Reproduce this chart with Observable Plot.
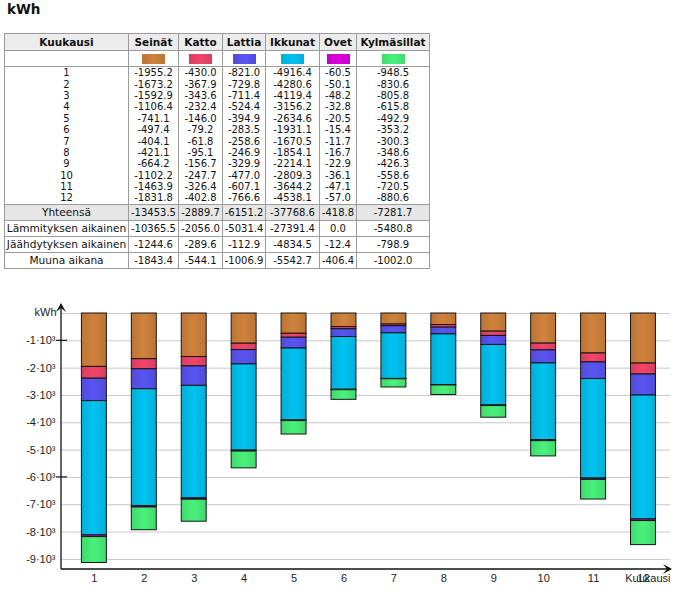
<!DOCTYPE html>
<html><head><meta charset="utf-8">
<script src="https://cdn.jsdelivr.net/npm/d3@7"></script>
<script src="https://cdn.jsdelivr.net/npm/@observablehq/plot@0.6"></script>
<style>
body{margin:0;background:#fff;width:681px;height:594px;position:relative;overflow:hidden;font-family:"DejaVu Sans",sans-serif;}
#title{position:absolute;left:7px;top:1px;font-weight:bold;font-size:13.5px;color:#111;}
table{position:absolute;left:4px;top:33px;border-collapse:collapse;table-layout:fixed;width:425px;font-size:10px;color:#111;}
td,th{border:1px solid #9a9a9a;padding:0;text-align:center;white-space:nowrap;overflow:hidden;}
th{background:#ececec;font-weight:bold;font-size:10.5px;height:16px;}
tr.sw td{height:15px;}
tr.d td{border-top:none;border-bottom:none;height:11.4px;line-height:11px;}
tr.s td{height:15px;}
tr.s td:first-child{font-size:10.6px;}
tr.tot td{background:#e6e6e6;}
.swatch{display:inline-block;width:23px;height:10px;vertical-align:middle;}
#chart{position:absolute;left:0;top:285px;}
</style></head><body>
<div id="title">kWh</div>
<table id="tbl"></table>
<div id="chart"></div>
<script>
const months = [1,2,3,4,5,6,7,8,9,10,11,12];
const seriesNames = ["Seinät","Katto","Lattia","Ikkunat","Ovet","Kylmäsillat"];
const seriesColors = ["#D0823C","#F2456A","#5A55F2","#00C3F0","#DD00E0","#48F27A"];
const seinat = [-1955.2,-1673.2,-1592.9,-1106.4,-741.1,-497.4,-404.1,-421.1,-664.2,-1102.2,-1463.9,-1831.8];
const katto = [-430.0,-367.9,-343.6,-232.4,-146.0,-79.2,-61.8,-95.1,-156.7,-247.7,-326.4,-402.8];
const lattia = [-821.0,-729.8,-711.4,-524.4,-394.9,-283.5,-258.6,-246.9,-329.9,-477.0,-607.1,-766.6];
const ikkunat = [-4916.4,-4280.6,-4119.4,-3156.2,-2634.6,-1931.1,-1670.5,-1854.1,-2214.1,-2809.3,-3644.2,-4538.1];
const ovet = [-60.5,-50.1,-48.2,-32.8,-20.5,-15.4,-11.7,-16.7,-22.9,-36.1,-47.1,-57.0];
const kylmasillat = [-948.5,-830.6,-805.8,-615.8,-492.9,-353.2,-300.3,-348.6,-426.3,-558.6,-720.5,-880.6];
const summaryLabels = ["Yhteensä","Lämmityksen aikainen","Jäähdytyksen aikainen","Muuna aikana"];
const yhteensa = [-13453.5,-2889.7,-6151.2,-37768.6,-418.8,-7281.7];
const lammitys = [-10365.5,-2056.0,-5031.4,-27391.4,0.0,-5480.8];
const jaahdytys = [-1244.6,-289.6,-112.9,-4834.5,-12.4,-798.9];
const muuna = [-1843.4,-544.1,-1006.9,-5542.7,-406.4,-1002.0];
const yTicks = [0,-1000,-2000,-3000,-4000,-5000,-6000,-7000,-8000,-9000];
const yMin = -9370;
const xLabel = "Kuukausi";
const yLabel = "kWh";

const seriesValues = [seinat, katto, lattia, ikkunat, ovet, kylmasillat];
const fmt = v => v.toFixed(1);

// ---- table ----
const colW = [124,50,44,43,54,37,73];
let html = "<colgroup>" + colW.map(w => `<col style="width:${w}px">`).join("") + "</colgroup>";
html += "<tr><th>Kuukausi</th>" + seriesNames.map(n => `<th>${n}</th>`).join("") + "</tr>";
const grad = c => { const d = d3.color(c).darker(0.3).formatHex(); return `linear-gradient(to right, ${d}, ${c} 50%, ${d})`; };
html += '<tr class="sw"><td></td>' + seriesColors.map(c => `<td><span class="swatch" style="background:${grad(c)}"></span></td>`).join("") + "</tr>";
months.forEach((m, i) => {
  html += `<tr class="d"><td>${m}</td>` + seriesValues.map(s => `<td>${fmt(s[i])}</td>`).join("") + "</tr>";
});
[yhteensa, lammitys, jaahdytys, muuna].forEach((arr, k) => {
  html += `<tr class="s${k===0?" tot":""}"><td>${summaryLabels[k]}</td>` + arr.map(v => `<td>${fmt(v)}</td>`).join("") + "</tr>";
});
document.getElementById("tbl").innerHTML = html;

// ---- chart ----
const data = [];
seriesNames.forEach((name, si) => months.forEach((m, i) => data.push({month: m, series: name, value: seriesValues[si][i]})));

const W = 681, H = 309, mL = 61, mR = 11, mT = 28, mB = 25;
const chart = Plot.plot({
  width: W, height: H,
  marginLeft: mL, marginRight: mR, marginTop: mT, marginBottom: mB,
  style: {fontFamily: "'Liberation Sans', Arial, sans-serif", fontSize: "11px", color: "#222", background: "transparent"},
  x: {type: "band", domain: months, paddingInner: 0.5, paddingOuter: 0.35, align: 0.584, round: false, axis: null},
  y: {domain: [yMin, 0], axis: null},
  color: {domain: seriesNames, range: seriesNames.map((n, i) => `url(#grad${i})`)},
  marks: [
    Plot.ruleY(yTicks, {stroke: "#c8c8c8", strokeWidth: 1}),
    Plot.barY(data, {x: "month", y: "value", fill: "series", stroke: "#151515", strokeWidth: 1, order: seriesNames}),
    Plot.text(yTicks.filter(d => d !== 0), {y: d => d, text: d => `${d/1000}·10³`, frameAnchor: "left", textAnchor: "end", dx: -6, fill: "#222"}),
    Plot.text(months, {x: d => d, text: d => String(d), frameAnchor: "bottom", dy: 12, fill: "#222"}),
    Plot.text([xLabel], {text: d => d, frameAnchor: "bottom-right", textAnchor: "end", dy: 12, fill: "#222"}),
    Plot.text([yLabel], {text: d => d, frameAnchor: "top-left", textAnchor: "end", dx: -5, dy: -5, fill: "#222"})
  ]
});

const svg = d3.select(chart);
const defs = svg.insert("defs", ":first-child");
seriesColors.forEach((c, i) => {
  const g = defs.append("linearGradient").attr("id", `grad${i}`).attr("x1", 0).attr("x2", 1).attr("y1", 0).attr("y2", 0);
  const dark = d3.color(c).darker(0.3).formatHex();
  g.append("stop").attr("offset", "0%").attr("stop-color", dark);
  g.append("stop").attr("offset", "50%").attr("stop-color", c);
  g.append("stop").attr("offset", "100%").attr("stop-color", dark);
});
const ys = chart.scale("y");
const y0 = ys.apply(yMin);
const yTop = ys.apply(0);
const ax = svg.append("g").attr("stroke", "#111").attr("fill", "#111");
// y axis with arrow
ax.append("line").attr("x1", mL).attr("x2", mL).attr("y1", y0).attr("y2", yTop - 8).attr("stroke-width", 1.3);
ax.append("path").attr("d", `M${mL},${yTop-10} L${mL-5},${yTop-1} L${mL},${yTop-5} L${mL+5},${yTop-1} Z`).attr("stroke", "none");
// x axis with arrow
const xEnd = W - mR + 2;
ax.append("line").attr("x1", mL).attr("x2", xEnd - 4).attr("y1", y0).attr("y2", y0).attr("stroke-width", 1.3);
ax.append("path").attr("d", `M${xEnd},${y0} L${xEnd-9},${y0-5} L${xEnd-5},${y0} L${xEnd-9},${y0+5} Z`).attr("stroke", "none");
// small ticks
[-1000, -6000].forEach(v => {
  ax.append("line").attr("x1", mL - 5).attr("x2", mL + 6).attr("y1", ys.apply(v)).attr("y2", ys.apply(v)).attr("stroke-width", 1.2);
});
document.getElementById("chart").appendChild(chart);
</script>
</body></html>
